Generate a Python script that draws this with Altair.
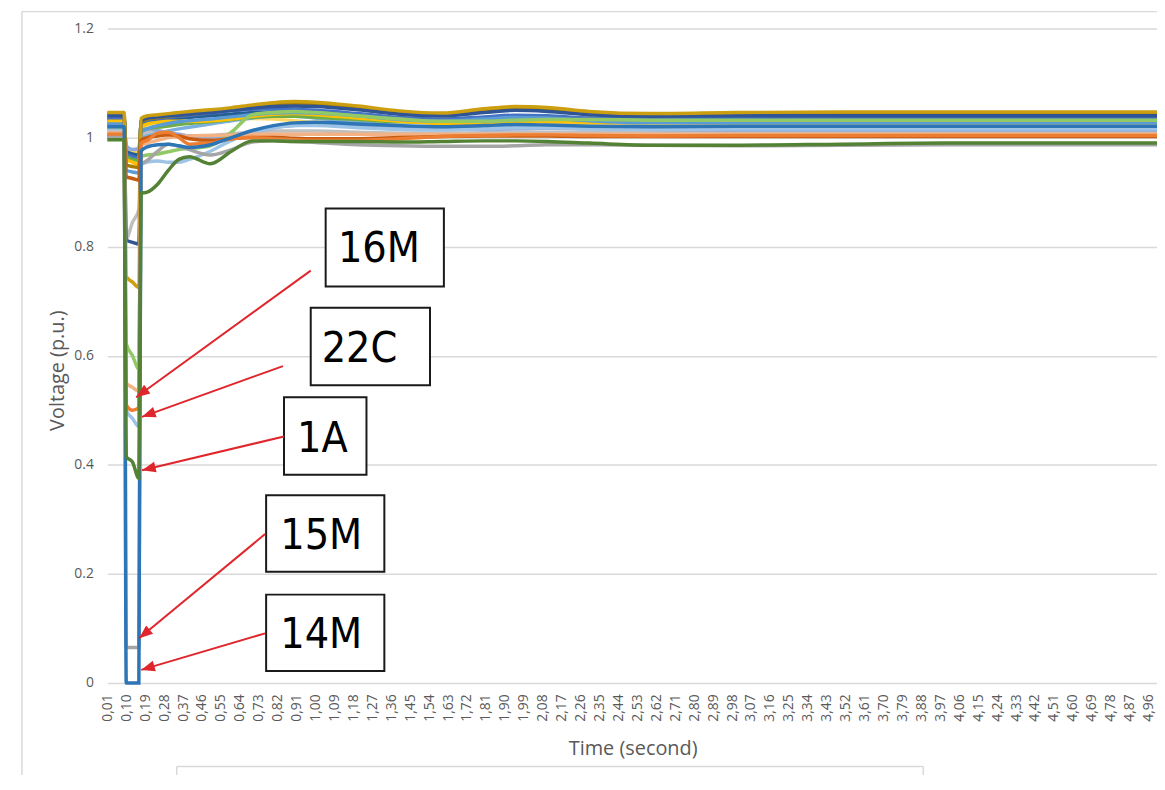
import math
import altair as alt
import pandas as pd

# ---------------- data ----------------
TIME = [0.01, 0.09, 0.10, 0.13, 0.16, 0.17, 0.20, 0.25, 0.30, 0.35, 0.40, 0.50, 0.60, 0.70,
        0.80, 0.90, 1.00, 1.20, 1.40, 1.60, 1.80, 1.95, 2.10, 2.30, 2.60, 3.00, 3.50, 4.00,
        4.50, 5.00]

V_LIGHT_YELLOW = [1.032, 1.032, 0.980, 0.975, 0.972, 1.018, 1.020, 1.022, 1.024, 1.026, 1.028, 1.031, 1.034, 1.035, 1.034, 1.031, 1.028, 1.029, 1.033, 1.034, 1.031, 1.028, 1.026, 1.025, 1.025, 1.025, 1.025, 1.025, 1.025, 1.025]
V_SKY = [1.015, 1.015, 0.970, 0.965, 0.960, 1.000, 1.004, 1.008, 1.012, 1.016, 1.019, 1.025, 1.031, 1.036, 1.039, 1.039, 1.036, 1.029, 1.021, 1.016, 1.017, 1.020, 1.021, 1.019, 1.018, 1.018, 1.018, 1.018, 1.018, 1.018]
V_STEEL = [1.033, 1.033, 0.975, 0.970, 0.968, 1.025, 1.028, 1.031, 1.033, 1.035, 1.037, 1.040, 1.043, 1.046, 1.047, 1.046, 1.044, 1.039, 1.033, 1.029, 1.030, 1.032, 1.032, 1.030, 1.029, 1.030, 1.030, 1.030, 1.030, 1.030]
V_MIDBLUE = [1.036, 1.036, 0.970, 0.965, 0.962, 1.028, 1.032, 1.035, 1.037, 1.039, 1.041, 1.045, 1.049, 1.052, 1.053, 1.052, 1.050, 1.044, 1.037, 1.034, 1.038, 1.041, 1.040, 1.036, 1.034, 1.035, 1.035, 1.035, 1.035, 1.035]
V_LIGHT_GRAY = [1.012, 1.012, 0.815, 0.845, 0.868, 1.005, 1.010, 1.012, 1.008, 1.005, 1.003, 1.004, 1.007, 1.010, 1.012, 1.012, 1.012, 1.010, 1.008, 1.008, 1.009, 1.010, 1.010, 1.010, 1.010, 1.010, 1.010, 1.010, 1.010, 1.010]
V_PERIWINKLE = [1.022, 1.022, 0.985, 0.978, 0.980, 1.015, 1.016, 1.013, 1.009, 1.006, 1.003, 1.001, 1.003, 1.010, 1.018, 1.022, 1.024, 1.022, 1.018, 1.015, 1.015, 1.016, 1.017, 1.016, 1.015, 1.014, 1.014, 1.014, 1.014, 1.014]
V_GREEN = [1.026, 1.026, 0.965, 0.960, 0.958, 1.012, 1.016, 1.019, 1.021, 1.024, 1.026, 1.029, 1.033, 1.037, 1.039, 1.039, 1.037, 1.033, 1.029, 1.028, 1.030, 1.032, 1.033, 1.032, 1.031, 1.031, 1.031, 1.031, 1.031, 1.031]
V_YELLOW = [1.030, 1.030, 0.960, 0.955, 0.950, 1.020, 1.025, 1.028, 1.030, 1.030, 1.030, 1.031, 1.034, 1.039, 1.043, 1.044, 1.042, 1.036, 1.030, 1.026, 1.025, 1.028, 1.030, 1.028, 1.027, 1.028, 1.028, 1.028, 1.028, 1.028]
V_PALE_BLUE = [1.018, 1.018, 0.500, 0.485, 0.470, 0.950, 0.955, 0.957, 0.955, 0.955, 0.960, 0.975, 0.995, 1.010, 1.018, 1.022, 1.022, 1.018, 1.015, 1.014, 1.016, 1.018, 1.018, 1.016, 1.015, 1.016, 1.016, 1.016, 1.016, 1.016]
V_LIGHT_BLUE = [1.025, 1.025, 0.940, 0.937, 0.935, 1.010, 1.016, 1.022, 1.026, 1.029, 1.031, 1.034, 1.038, 1.042, 1.045, 1.046, 1.045, 1.040, 1.033, 1.030, 1.034, 1.037, 1.036, 1.031, 1.027, 1.027, 1.027, 1.027, 1.027, 1.027]
V_DARK_GOLD = [1.043, 1.043, 0.950, 0.947, 0.945, 1.030, 1.034, 1.037, 1.039, 1.041, 1.043, 1.047, 1.052, 1.057, 1.061, 1.062, 1.061, 1.055, 1.046, 1.043, 1.050, 1.054, 1.052, 1.046, 1.042, 1.044, 1.045, 1.045, 1.045, 1.045]
V_DARK_BLUE = [1.040, 1.040, 0.812, 0.808, 0.805, 1.030, 1.036, 1.038, 1.040, 1.041, 1.043, 1.046, 1.050, 1.054, 1.057, 1.058, 1.057, 1.051, 1.043, 1.040, 1.046, 1.050, 1.048, 1.042, 1.039, 1.040, 1.040, 1.040, 1.040, 1.040]
V_GOLD = [1.046, 1.046, 0.745, 0.735, 0.725, 1.035, 1.040, 1.042, 1.044, 1.046, 1.048, 1.051, 1.055, 1.060, 1.064, 1.066, 1.065, 1.058, 1.049, 1.045, 1.053, 1.057, 1.055, 1.048, 1.044, 1.046, 1.047, 1.047, 1.047, 1.047]
V_LIGHT_GREEN = [1.020, 1.020, 0.622, 0.600, 0.575, 0.965, 0.968, 0.970, 0.974, 0.978, 0.980, 0.985, 1.010, 1.042, 1.046, 1.048, 1.046, 1.040, 1.034, 1.030, 1.030, 1.032, 1.033, 1.033, 1.032, 1.032, 1.032, 1.032, 1.032, 1.032]
V_16M = [1.008, 1.008, 0.550, 0.542, 0.535, 0.985, 0.990, 0.995, 1.000, 1.002, 1.003, 1.004, 1.005, 1.006, 1.006, 1.006, 1.006, 1.006, 1.006, 1.006, 1.006, 1.006, 1.006, 1.006, 1.006, 1.006, 1.006, 1.006, 1.006, 1.006]
V_DARK_ORANGE = [1.003, 1.003, 0.928, 0.925, 0.922, 0.995, 1.000, 1.003, 1.005, 1.003, 0.998, 0.995, 0.998, 1.000, 1.000, 0.999, 0.998, 0.998, 1.000, 1.002, 1.003, 1.003, 1.003, 1.002, 1.002, 1.002, 1.002, 1.002, 1.002, 1.002]
V_22C = [1.006, 1.006, 0.510, 0.500, 0.505, 0.990, 0.995, 1.008, 1.010, 1.000, 0.988, 0.990, 0.998, 1.000, 0.998, 0.996, 0.995, 0.995, 0.998, 1.002, 1.004, 1.005, 1.005, 1.004, 1.003, 1.004, 1.004, 1.004, 1.004, 1.004]
V_15M = [1.000, 1.000, 0.065, 0.065, 0.065, 0.950, 0.958, 0.975, 0.988, 0.984, 0.978, 0.968, 0.978, 0.992, 0.994, 0.993, 0.991, 0.987, 0.985, 0.984, 0.984, 0.985, 0.987, 0.987, 0.986, 0.985, 0.986, 0.987, 0.987, 0.987]
V_14M = [1.020, 1.020, 0.000, 0.000, 0.000, 0.975, 0.983, 0.987, 0.988, 0.985, 0.982, 0.987, 1.000, 1.013, 1.022, 1.027, 1.028, 1.025, 1.022, 1.020, 1.022, 1.024, 1.023, 1.021, 1.020, 1.021, 1.021, 1.021, 1.021, 1.021]
V_1A = [0.996, 0.996, 0.415, 0.405, 0.375, 0.898, 0.900, 0.915, 0.940, 0.960, 0.965, 0.952, 0.975, 0.994, 0.994, 0.993, 0.993, 0.993, 0.992, 0.993, 0.994, 0.994, 0.993, 0.990, 0.986, 0.986, 0.988, 0.990, 0.990, 0.990]

SERIES_NAMES = ["bus a", "bus b", "bus c", "bus d", "bus e", "bus f", "bus g", "bus h",
                "bus i", "bus j", "bus k", "bus l", "bus m", "bus n", "16M", "bus o",
                "22C", "15M", "14M", "1A"]
SERIES_COLORS = ["#FFD966", "#7CAFDD", "#255E91", "#4472C4", "#BFBFBF", "#8FAADC",
                 "#70AD47", "#FFC000", "#9DC3E6", "#5B9BD5", "#A67C00", "#2F5597",
                 "#CC9F10", "#92C967", "#F4B183", "#C55A11", "#ED7D31", "#A5A5A5",
                 "#2E75B6", "#548235"]
SERIES_VALUES = [V_LIGHT_YELLOW, V_SKY, V_STEEL, V_MIDBLUE, V_LIGHT_GRAY, V_PERIWINKLE,
                 V_GREEN, V_YELLOW, V_PALE_BLUE, V_LIGHT_BLUE, V_DARK_GOLD, V_DARK_BLUE,
                 V_GOLD, V_LIGHT_GREEN, V_16M, V_DARK_ORANGE, V_22C, V_15M, V_14M, V_1A]

XTICKS = [round(0.01 + 0.09 * k, 2) for k in range(56)]
YTICKS = [0, 0.2, 0.4, 0.6, 0.8, 1.0, 1.2]

# annotations (data units)
LABELS = ["16M", "22C", "1A", "15M", "14M"]
BOX_T0 = [1.048, 0.977, 0.850, 0.765, 0.765]
BOX_T1 = [1.610, 1.544, 1.242, 1.327, 1.327]
BOX_V0 = [0.727, 0.546, 0.382, 0.204, 0.022]
BOX_V1 = [0.870, 0.688, 0.524, 0.344, 0.162]
TEXT_T = [1.301, 1.209, 1.032, 1.027, 1.027]
TEXT_V = [0.772, 0.588, 0.424, 0.246, 0.064]
ARROW_T0 = [0.977, 0.845, 0.850, 0.760, 0.760]
ARROW_V0 = [0.756, 0.581, 0.452, 0.273, 0.091]
ARROW_T1 = [0.147, 0.175, 0.175, 0.161, 0.171]
ARROW_V1 = [0.524, 0.488, 0.390, 0.082, 0.024]

# frame decorations (data units)
FRAME_T0 = [-0.396, -0.396, 0.340, 0.340, 3.889]
FRAME_T1 = [5.0, -0.396, 3.889, 0.340, 3.889]
FRAME_V0 = [1.231, 1.231, -0.153, -0.153, -0.153]
FRAME_V1 = [1.231, -0.200, -0.153, -0.200, -0.200]

# ---------------- layout ----------------
W, H = 1057, 659
T_MIN, T_MAX = 0.01, 5.0
V_MIN, V_MAX = 0.0, 1.2
FONT = "Open Sans"
NARROW = "Liberation Sans Narrow, DejaVu Sans Condensed, sans-serif"
GREY_TEXT = "#595959"
GRID = "#D9D9D9"
RED = "#E0262D"

rows = []
for order, (name, vals) in enumerate(zip(SERIES_NAMES, SERIES_VALUES)):
    for t, v in zip(TIME, vals):
        rows.append({"series": name, "o": order, "t": t, "v": v})
df = pd.DataFrame(rows)

kx = W / (T_MAX - T_MIN)
ky = H / (V_MAX - V_MIN)
angles = []
for t0, v0, t1, v1 in zip(ARROW_T0, ARROW_V0, ARROW_T1, ARROW_V1):
    dx = (t1 - t0) * kx
    dy = -(v1 - v0) * ky
    angles.append(math.degrees(math.atan2(dx, -dy)) % 360)

ann = pd.DataFrame({"label": LABELS, "bt0": BOX_T0, "bt1": BOX_T1, "bv0": BOX_V0,
                    "bv1": BOX_V1, "tt": TEXT_T, "tv": TEXT_V, "at0": ARROW_T0,
                    "av0": ARROW_V0, "at1": ARROW_T1, "av1": ARROW_V1, "ang": angles})
frame = pd.DataFrame({"t0": FRAME_T0, "t1": FRAME_T1, "v0": FRAME_V0, "v1": FRAME_V1})

xs = alt.Scale(domain=[T_MIN, T_MAX], nice=False, zero=False)
ys = alt.Scale(domain=[V_MIN, V_MAX], nice=False, zero=False)

x_axis = alt.Axis(values=XTICKS, labelExpr="replace(format(datum.value, '.2f'), '.', ',')",
                  labelAngle=270, labelAlign="right", labelBaseline="middle", labelPadding=11,
                  labelFontSize=14, labelColor=GREY_TEXT, labelFont=FONT, labelOverlap=False,
                  labelFlush=False, grid=False, ticks=False, domain=False,
                  title="Time (second)", titleFont=FONT, titleFontSize=20,
                  titleFontWeight="normal", titleColor=GREY_TEXT, titleX=529, titleY=66,
                  titleAlign="center", titleBaseline="middle")
y_axis = alt.Axis(values=YTICKS, format="~g", grid=True, gridColor=GRID, gridWidth=1.5,
                  ticks=False, domain=False, labelPadding=14, labelFontSize=14,
                  labelColor=GREY_TEXT, labelFont=FONT,
                  title="Voltage (p.u.)", titleFont=FONT, titleFontSize=20,
                  titleFontWeight="normal", titleColor=GREY_TEXT, titleX=-50, titleY=344,
                  titleAngle=270, titleAlign="center", titleBaseline="middle")


def X(field):
    return alt.X(field, scale=xs, axis=x_axis, title="Time (second)")


def Y(field):
    return alt.Y(field, scale=ys, axis=y_axis, title="Voltage (p.u.)")


frame_rules = alt.Chart(frame).mark_rule(color=GRID, strokeWidth=1.5).encode(
    x=X("t0:Q"), x2="t1:Q", y=Y("v0:Q"), y2="v1:Q",
)

lines = alt.Chart(df).mark_line(strokeWidth=3.5, interpolate="monotone").encode(
    x=X("t:Q"),
    y=Y("v:Q"),
    color=alt.Color("series:N", scale=alt.Scale(domain=SERIES_NAMES, range=SERIES_COLORS),
                    legend=None),
    order=alt.Order("t:Q"),
)

boxes = alt.Chart(ann).mark_rect(fill="white", stroke="#1A1A1A", strokeWidth=2).encode(
    x=X("bt0:Q"), x2="bt1:Q", y=Y("bv0:Q"), y2="bv1:Q",
)

texts = alt.Chart(ann).mark_text(font=NARROW, fontSize=43, color="#000000", align="center",
                                 baseline="alphabetic").encode(
    x=X("tt:Q"), y=Y("tv:Q"), text="label:N",
)

arrows = alt.Chart(ann).mark_rule(color=RED, strokeWidth=2).encode(
    x=X("at0:Q"), x2="at1:Q", y=Y("av0:Q"), y2="av1:Q",
)

heads = alt.Chart(ann).mark_point(shape="M0,0L-0.75,1.9L0.75,1.9Z", filled=True,
                                  color=RED, opacity=1, size=210, strokeWidth=0).encode(
    x=X("at1:Q"), y=Y("av1:Q"),
    angle=alt.Angle("ang:Q", scale=None),
)

chart = alt.layer(frame_rules, lines, boxes, texts, arrows, heads).properties(
    width=W, height=H,
    autosize=alt.AutoSizeParams(type="none"),
    padding={"left": 100, "top": 18, "right": 0, "bottom": 90},
    background="white",
).configure_view(stroke=None)

chart.save("out.html", embed_options={"renderer": "svg", "actions": False})
